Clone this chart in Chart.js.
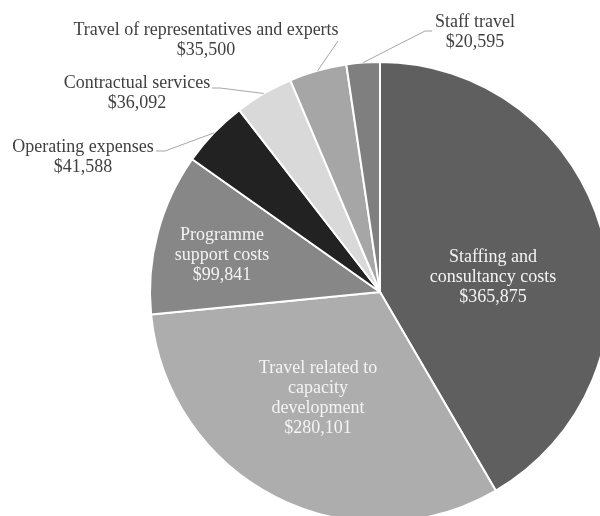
<!DOCTYPE html>
<html>
<head>
<meta charset="utf-8">
<script src="https://cdn.jsdelivr.net/npm/chart.js@4/dist/chart.umd.min.js"></script>
<style>
    body{ margin:0; background:#fff; }
    #caixa{ width:600px; height:516px; position:relative; }
</style>
</head>
<body>
<div id="caixa"><canvas id="grafico-pizza"></canvas></div>
<script>
// dados (sentido horario a partir do topo)
const categorias = ['Staffing and\nconsultancy costs', 'Travel related to\ncapacity\ndevelopment', 'Programme\nsupport costs',
    'Operating expenses', 'Contractual services', 'Travel of representatives and experts', 'Staff travel'];
const valores = [365875, 280101, 99841, 41588, 36092, 35500, 20595];

const cores = ['#5f5f5f', '#adadad', '#878787', '#222222', '#d9d9d9', '#a6a6a6', '#7f7f7f'];

// onde vai cada rotulo, em pixels a partir do centro da pizza
const posRotulos = [
    {dentro: true, txt: [113, -15]},
    {dentro: true, txt: [-62, 106]},
    {dentro: true, txt: [-158, -37]},
    {dentro: false, txt: [-297, -135], cotovelo: [-215, -141], fim: [-224, -141]},
    {dentro: false, txt: [-243, -199], cotovelo: [-160, -204], fim: [-168, -204]},
    {dentro: false, txt: [-174, -252], cotovelo: [-42, -251], fim: [-42, -251]},
    {dentro: false, txt: [95, -260], cotovelo: [45, -261], fim: [52, -261]}
];

function dinheiro(v){
    return '$' + v.toLocaleString('en-US');
}

const rotulos = {
    id: 'rotulos',
    afterDatasetsDraw(chart){
        const ctx = chart.ctx;
        const arcos = chart.getDatasetMeta(0).data;
        ctx.save();
        ctx.font = '18px "Liberation Serif", "Times New Roman", serif';
        ctx.textAlign = 'center';
        ctx.textBaseline = 'middle';
        arcos.forEach((arco, i) => {
            const p = posRotulos[i];
            const cx = arco.x, cy = arco.y;
            const linhas = categorias[i].split('\n');
            linhas.push(dinheiro(valores[i]));

            if(!p.dentro){
                // linha guia sai da borda do arco no angulo do meio
                const meio = (arco.startAngle + arco.endAngle) / 2;
                const r = arco.outerRadius;
                ctx.strokeStyle = '#a6a6a6';
                ctx.lineWidth = 1;
                ctx.beginPath();
                ctx.moveTo(cx + Math.cos(meio) * r, cy + Math.sin(meio) * r);
                ctx.lineTo(cx + p.cotovelo[0], cy + p.cotovelo[1]);
                ctx.lineTo(cx + p.fim[0], cy + p.fim[1]);
                ctx.stroke();
            }

            ctx.fillStyle = p.dentro ? '#f4f4f4' : '#404040';
            const alt = 20;
            const y0 = cy + p.txt[1] - (linhas.length - 1) * alt / 2;
            linhas.forEach((l, k) => {
                ctx.fillText(l, cx + p.txt[0], y0 + k * alt);
            });
        });
        ctx.restore();
    }
};

const canvas = document.getElementById('grafico-pizza');
let pizza = new Chart(canvas, {
    type: 'pie',
    data: {
        labels: categorias,
        datasets: [
            {
                data: valores,
                backgroundColor: cores,
                borderColor: '#ffffff',
                borderWidth: 2,
            },
        ]
    },
    options: {
        responsive: true,
        maintainAspectRatio: false,
        animation: false,
        radius: 230,
        layout: { padding: { left: 160, top: 68, right: 0, bottom: 0 } },
        plugins: {
            legend: { display: false },
            tooltip: { enabled: false }
        }
    },
    plugins: [rotulos]
});
</script>
</body>
</html>
